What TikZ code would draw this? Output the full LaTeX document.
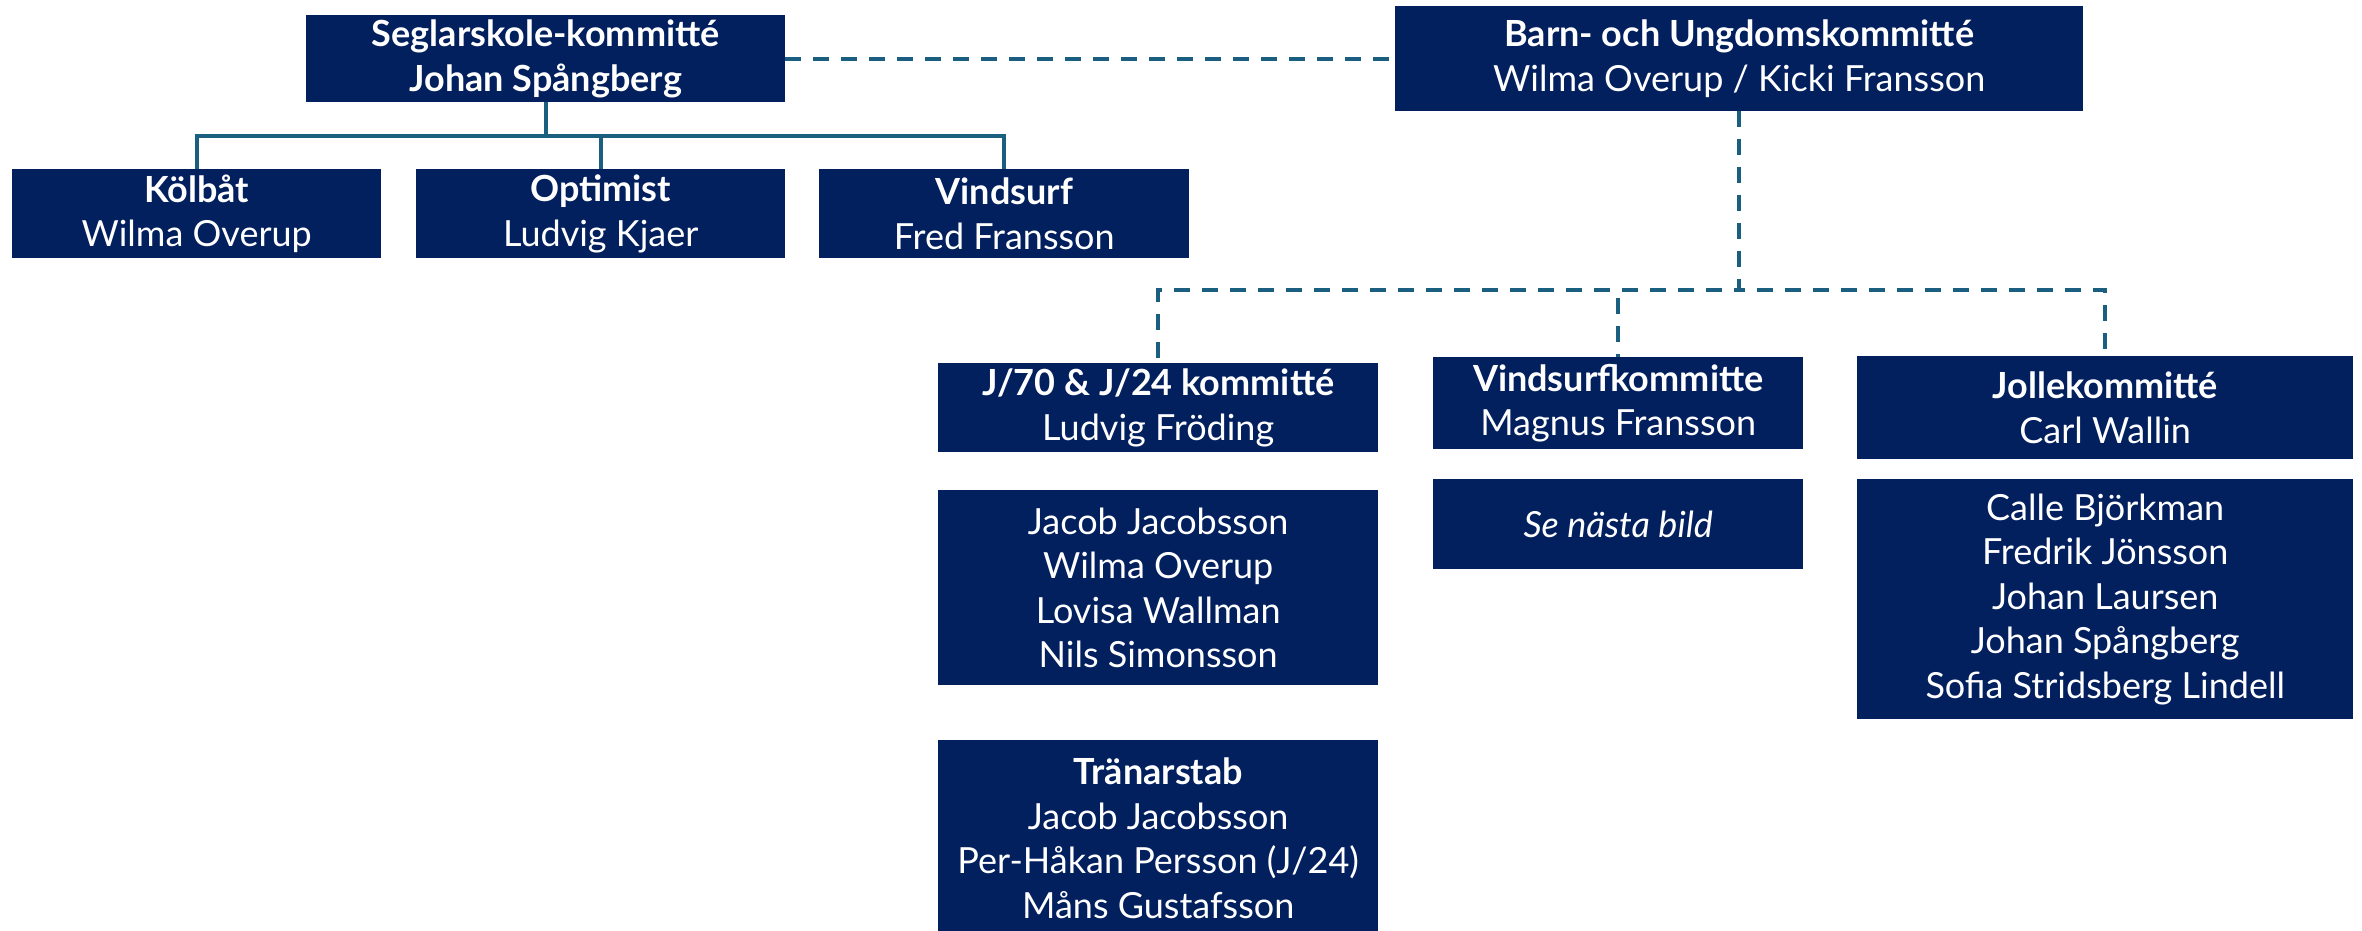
\documentclass[tikz,border=0pt]{standalone}
\usepackage{fontspec}
\setmainfont{Lato}
\definecolor{navy}{HTML}{021F5E}
\definecolor{linec}{HTML}{1A5E80}
\begin{document}
\begin{tikzpicture}[x=1pt,y=-1pt,
  box/.style={fill=navy, text=white, align=center, anchor=north west, inner sep=0pt,
    font=\fontsize{36}{44.5}\selectfont},
  solidline/.style={draw=linec, line width=4pt},
  dashline/.style={draw=linec, line width=4pt, dash pattern=on 16pt off 12pt}]
\useasboundingbox (0,0) rectangle (2362,931);
\begin{scope}
\clip (0,0) rectangle (2362,931);
\node[box, minimum width=479, minimum height=87] (seg) at (306,15) {\textbf{Seglarskole-kommitté}\\\textbf{Johan Spångberg}};
\node[box, minimum width=688, minimum height=105] (barn) at (1395,6) {\textbf{Barn- och Ungdomskommitté}\\Wilma Overup / Kicki Fransson};
\node[box, minimum width=369, minimum height=89] (kol) at (12,169) {\textbf{Kölbåt}\\Wilma Overup};
\node[box, minimum width=369, minimum height=89] (opt) at (416,169) {\textbf{Optimist}\\Ludvig Kjaer};
\node[box, minimum width=370, minimum height=89] (vin) at (819,169) {\textbf{Vindsurf}\\Fred Fransson};
\node[box, minimum width=440, minimum height=89] (j70) at (938,363) {\textbf{J/70 \& J/24 kommitté}\\Ludvig Fröding};
\node[box, minimum width=370, minimum height=92] (vsk) at (1433,357) {\textbf{Vindsurfkommitte}\\Magnus Fransson};
\node[box, minimum width=496, minimum height=103] (jol) at (1857,356) {\textbf{Jollekommitté}\\Carl Wallin};
\node[box, minimum width=440, minimum height=195] (jmem) at (938,490) {Jacob Jacobsson\\Wilma Overup\\Lovisa Wallman\\Nils Simonsson};
\node[box, minimum width=370, minimum height=90] (vmem) at (1433,479) {\textit{Se nästa bild}};
\node[box, minimum width=496, minimum height=240] (cmem) at (1857,479) {Calle Björkman\\Fredrik Jönsson\\Johan Laursen\\Johan Spångberg\\Sofia Stridsberg Lindell};
\node[box, minimum width=440, minimum height=196] (tran) at (938,740) {\textbf{Tränarstab}\\Jacob Jacobsson\\Per-Håkan Persson (J/24)\\Måns Gustafsson};
\end{scope}
\coordinate (sbus) at (0,136);
\coordinate (bbus) at (0,290);
\draw[solidline] (seg.south) -- (seg.south |- sbus) -| (kol.north);
\draw[solidline] (seg.south) -- (seg.south |- sbus) -| (opt.north);
\draw[solidline] (seg.south) -- (seg.south |- sbus) -| (vin.north);
\draw[dashline] (seg.east) -- (barn.west);
\draw[dashline] (barn.south) -- (barn.south |- bbus) -| (j70.north);
\draw[dashline] (barn.south) -- (barn.south |- bbus) -| (vsk.north);
\draw[dashline] (barn.south) -- (barn.south |- bbus) -| (jol.north);
\end{tikzpicture}
\end{document}
